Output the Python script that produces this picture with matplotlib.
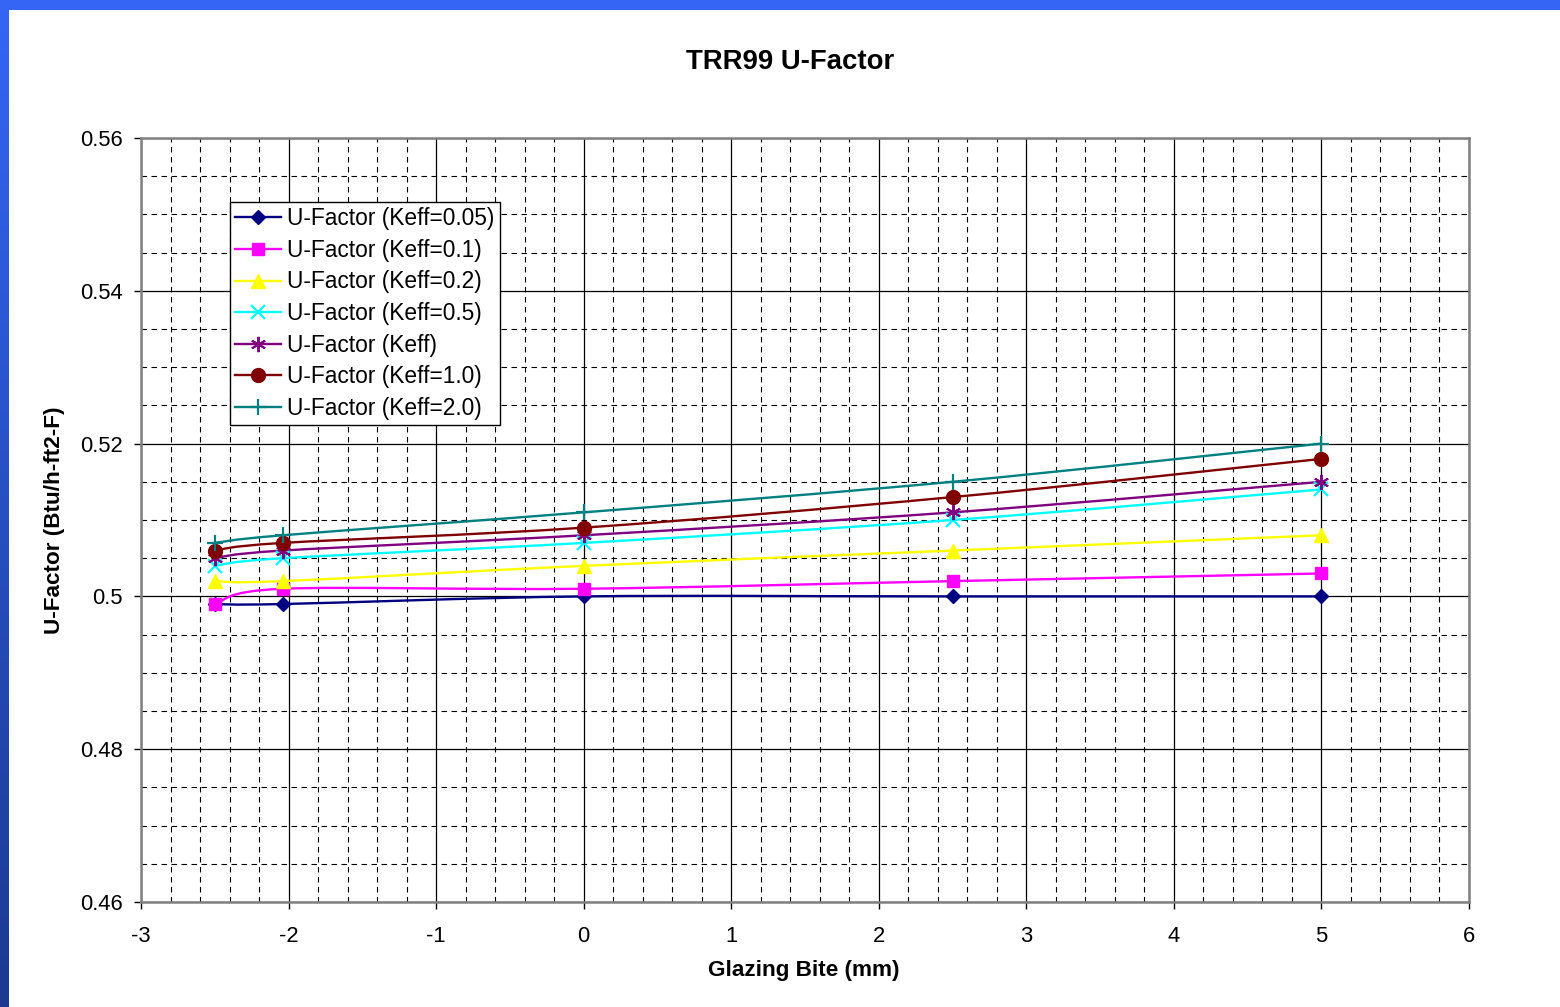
import numpy as np
import matplotlib
matplotlib.use("Agg")
import matplotlib.pyplot as plt
from matplotlib.path import Path
from matplotlib.patches import PathPatch, Rectangle
from matplotlib.lines import Line2D
from matplotlib.ticker import MultipleLocator, FuncFormatter
from matplotlib.colors import LinearSegmentedColormap

plt.rcParams['font.family'] = ['Liberation Sans', 'DejaVu Sans']

# ---- data ----
glazing_bite = [-2.5, -2.04, 0, 2.5, 5]
series_names = ["U-Factor (Keff=0.05)", "U-Factor (Keff=0.1)", "U-Factor (Keff=0.2)",
                "U-Factor (Keff=0.5)", "U-Factor (Keff)", "U-Factor (Keff=1.0)",
                "U-Factor (Keff=2.0)"]
u_keff_005 = [0.499, 0.499, 0.500, 0.500, 0.500]
u_keff_01 = [0.499, 0.501, 0.501, 0.502, 0.503]
u_keff_02 = [0.502, 0.502, 0.504, 0.506, 0.508]
u_keff_05 = [0.504, 0.505, 0.507, 0.510, 0.514]
u_keff = [0.505, 0.506, 0.508, 0.511, 0.515]
u_keff_10 = [0.506, 0.507, 0.509, 0.513, 0.518]
u_keff_20 = [0.507, 0.508, 0.511, 0.515, 0.520]
series_values = [u_keff_005, u_keff_01, u_keff_02, u_keff_05, u_keff, u_keff_10, u_keff_20]

colors = ["#000080", "#FF00FF", "#FFFF00", "#00FFFF", "#800080", "#800000", "#008080"]
markers = ["D", "s", "^", "x", (6, 2, 0), "o", "+"]
msizes = [7, 9, 10, 10, 11, 10, 12]
mews = [1, 1, 1, 1.6, 1.4, 1, 1.6]

W, H = 1560, 1007
fig = plt.figure(figsize=(W / 100, H / 100), dpi=100)
fig.patch.set_facecolor("white")

# blue slide frame
fig.patches.append(Rectangle((0, 1 - 10 / H), 1, 10 / H, transform=fig.transFigure,
                             facecolor="#3465F5", edgecolor="none", zorder=0))
gax = fig.add_axes([0, 0, 9 / W, 1 - 10 / H])
grad = np.linspace(0, 1, 256).reshape(-1, 1)
cmap = LinearSegmentedColormap.from_list("frame", ["#3465F5", "#1B3A90"])
gax.imshow(grad, aspect="auto", cmap=cmap, extent=[0, 1, 0, 1], origin="upper")
gax.set_axis_off()

ax = fig.add_axes([141 / W, 1 - 902 / H, (1469 - 141) / W, (902 - 138) / H])
ax.set_xlim(-3, 6)
ax.set_ylim(0.46, 0.56)
ax.xaxis.set_major_locator(MultipleLocator(1))
ax.xaxis.set_minor_locator(MultipleLocator(0.2))
ax.yaxis.set_major_locator(MultipleLocator(0.02))
ax.yaxis.set_minor_locator(MultipleLocator(0.005))
ax.grid(which="major", color="#000000", linewidth=0.9, linestyle="-")
ax.grid(which="minor", color="#000000", linewidth=0.8, linestyle=(0, (5, 4)))
ax.set_axisbelow(True)
ax.tick_params(which="major", direction="out", length=5, width=1, labelsize=15.8,
               colors="#000000")
ax.tick_params(axis="x", which="major", pad=12)
ax.tick_params(axis="y", which="major", pad=8)
ax.tick_params(which="minor", length=0)
ax.xaxis.set_major_formatter(FuncFormatter(lambda v, p: f"{v:g}"))
ax.yaxis.set_major_formatter(FuncFormatter(lambda v, p: f"{v:g}"))
for s in ax.spines.values():
    s.set_color("#808080")
    s.set_linewidth(1.8)


def smooth_path(xs, ys):
    pts = np.column_stack([xs, ys]).astype(float)
    n = len(pts)
    verts = [pts[0]]
    codes = [Path.MOVETO]
    for i in range(n - 1):
        p0 = pts[i - 1] if i > 0 else pts[i]
        p1 = pts[i]
        p2 = pts[i + 1]
        p3 = pts[i + 2] if i + 2 < n else pts[i + 1]
        c1 = p1 + (p2 - p0) / 6.0
        c2 = p2 - (p3 - p1) / 6.0
        verts += [c1, c2, p2]
        codes += [Path.CURVE4] * 3
    return Path(verts, codes)


handles = []
for name, vals, c, m, ms, mew in zip(series_names, series_values, colors, markers, msizes, mews):
    patch = PathPatch(smooth_path(glazing_bite, vals), facecolor="none", edgecolor=c,
                      linewidth=1.7, zorder=3)
    ax.add_patch(patch)
    ax.plot(glazing_bite, vals, linestyle="none", marker=m, markersize=ms, color=c,
            markeredgecolor=c, markeredgewidth=mew, zorder=4)
    handles.append(Line2D([], [], color=c, linewidth=1.7, marker=m, markersize=ms,
                          markeredgecolor=c, markeredgewidth=mew, label=name))

leg = ax.legend(handles=handles, loc="upper left", bbox_to_anchor=(0.067, 0.916),
                fontsize=16.4, frameon=True, fancybox=False, framealpha=1,
                edgecolor="#000000", handlelength=2.0, handletextpad=0.3,
                borderpad=0.22, labelspacing=0.38, borderaxespad=0)
leg.get_frame().set_linewidth(1.0)

fig.text(790 / W, 1 - 62 / H, "TRR99 U-Factor", ha="center", va="center",
         fontsize=19.8, fontweight="bold")
ax.set_xlabel("Glazing Bite (mm)", fontsize=16.2, fontweight="bold")
ax.set_ylabel("U-Factor (Btu/h-ft2-F)", fontsize=16.2, fontweight="bold")
ax.xaxis.set_label_coords((804 - 141) / 1328, (902 - 960) / 764)
ax.yaxis.set_label_coords((65 - 141) / 1328, 0.5)

fig.savefig("out.png", dpi=100, facecolor="white")
